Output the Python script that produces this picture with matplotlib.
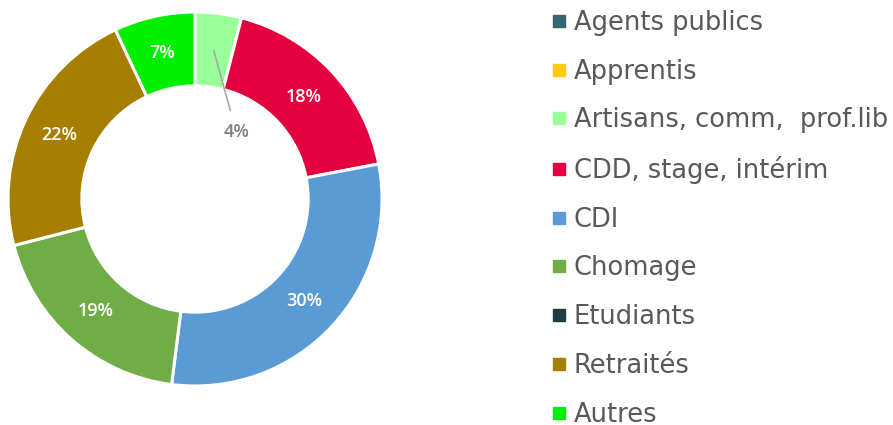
import matplotlib
matplotlib.use("Agg")
import matplotlib.pyplot as plt
from matplotlib.lines import Line2D
import numpy as np

categories = ["Agents publics", "Apprentis", "Artisans, comm,  prof.lib", "CDD, stage, intérim",
              "CDI", "Chomage", "Etudiants", "Retraités", "Autres"]
values = [0, 0, 4, 18, 30, 19, 0, 22, 7]
colors = ["#376574", "#FFC914", "#99FF99", "#E4003F", "#5B9BD5", "#70AD47", "#1F3C45", "#A67F00", "#00EE00"]

W, H = 893, 425
fig = plt.figure(figsize=(W / 100, H / 100), dpi=100)

cx, cy, R = 195, 199, 187
ax = fig.add_axes([(cx - R) / W, (H - cy - R) / H, 2 * R / W, 2 * R / H])

nz = [i for i, v in enumerate(values) if v > 0]
vals = [values[i] for i in nz]
cols = [colors[i] for i in nz]
wedges, _ = ax.pie(vals, colors=cols, startangle=90, counterclock=False, radius=1,
                   wedgeprops=dict(width=0.395, edgecolor="white", linewidth=2.2))
ax.set_xlim(-1, 1)
ax.set_ylim(-1, 1)
ax.set_aspect("equal")
ax.axis("off")

total = sum(vals)
label_font = dict(family=["Open Sans", "DejaVu Sans"], fontsize=13, fontweight="semibold")
ang = 90.0
for i, v in zip(nz, vals):
    sweep = 360.0 * v / total
    mid = np.deg2rad(ang - sweep / 2)
    ang -= sweep
    rm = 0.80
    txt = f"{v}%"
    if v < 5:
        xy = (rm * np.cos(mid), rm * np.sin(mid))
        xt = (0.22, 0.36)
        ax.annotate(txt, xy=xy, xytext=xt, ha="center", va="center", color="#7F7F7F",
                    arrowprops=dict(arrowstyle="-", color="#A6A6A6", lw=1.2,
                                    shrinkA=7, shrinkB=0), **label_font)
    else:
        ax.text(rm * np.cos(mid), rm * np.sin(mid), txt, ha="center", va="center",
                color="white", **label_font)

handles = [Line2D([0], [0], marker="s", linestyle="none", markersize=8,
                  markerfacecolor=c, markeredgecolor=c) for c in colors]
leg = fig.legend(handles, categories, loc="upper left", bbox_to_anchor=(541.5 / W, 1 + 0.5 / H),
                 frameon=False, handlelength=0.6, handletextpad=0.25, labelspacing=0.885,
                 prop=dict(family=["DejaVu Sans"], size=18.5), borderaxespad=0)
for t in leg.get_texts():
    t.set_color("#595959")

fig.savefig("out.png", dpi=100)
